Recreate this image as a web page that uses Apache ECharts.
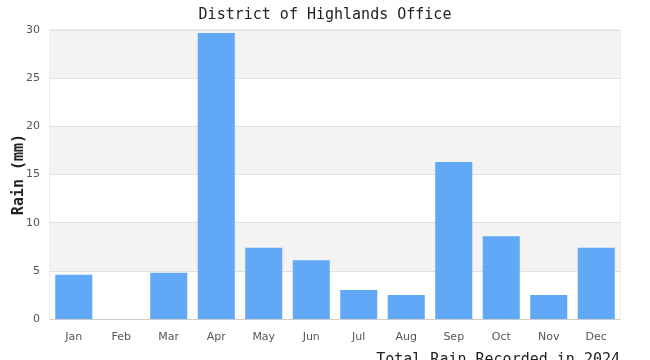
<!DOCTYPE html>
<html>
<head>
<meta charset="utf-8">
<script src="https://cdn.jsdelivr.net/npm/echarts@6/dist/echarts.min.js"></script>
<style>html,body{margin:0;padding:0;background:#fff}#c{width:650px;height:360px}</style>
</head>
<body>
<div id="c"></div>
<script>
const months = ['Jan','Feb','Mar','Apr','May','Jun','Jul','Aug','Sep','Oct','Nov','Dec'];
const rain = [4.6, 0, 4.8, 29.7, 7.4, 6.1, 3.0, 2.5, 16.3, 8.6, 2.5, 7.4];
const yTicks = [0, 5, 10, 15, 20, 25, 30];

const chart = echarts.init(document.getElementById('c'));
chart.setOption({
  animation: false,
  title: {
    text: 'District of Highlands Office',
    left: 'center',
    top: 3,
    textStyle: {fontFamily: 'DejaVu Sans Mono', fontSize: 15, fontWeight: 'normal', color: '#222'}
  },
  grid: {left: 50, right: 30, top: 30, bottom: 41, show: true, borderColor: '#ddd', borderWidth: 1, outerBoundsMode: 'none', containLabel: false},
  xAxis: {
    type: 'category',
    data: months,
    name: 'Total Rain Recorded in 2024',
    nameLocation: 'end',
    nameGap: 0,
    nameMoveOverlap: false,
    nameTextStyle: {fontFamily: 'DejaVu Sans Mono', fontSize: 15, color: '#222', align: 'right', verticalAlign: 'top', padding: [34, 0, 0, 0]},
    axisLine: {lineStyle: {color: '#ccc'}},
    axisTick: {show: false},
    axisLabel: {color: '#555', fontSize: 11, margin: 13, fontFamily: 'DejaVu Sans'}
  },
  yAxis: {
    type: 'value',
    min: yTicks[0],
    max: yTicks[yTicks.length - 1],
    interval: 5,
    name: 'Rain (mm)',
    nameLocation: 'middle',
    nameGap: 23,
    nameMoveOverlap: false,
    nameTextStyle: {fontFamily: 'DejaVu Sans Mono', fontSize: 15, fontWeight: 'bold', color: '#222'},
    axisLine: {show: false},
    axisTick: {show: false},
    axisLabel: {color: '#555', fontSize: 11, margin: 10, fontFamily: 'DejaVu Sans'},
    splitLine: {lineStyle: {color: '#e0e0e0'}},
    splitArea: {show: true, areaStyle: {color: ['#ffffff', '#f3f3f3']}}
  },
  series: [{
    type: 'bar',
    data: rain,
    barCategoryGap: '22%',
    itemStyle: {color: '#61a9f6'}
  }]
});
</script>
</body>
</html>
